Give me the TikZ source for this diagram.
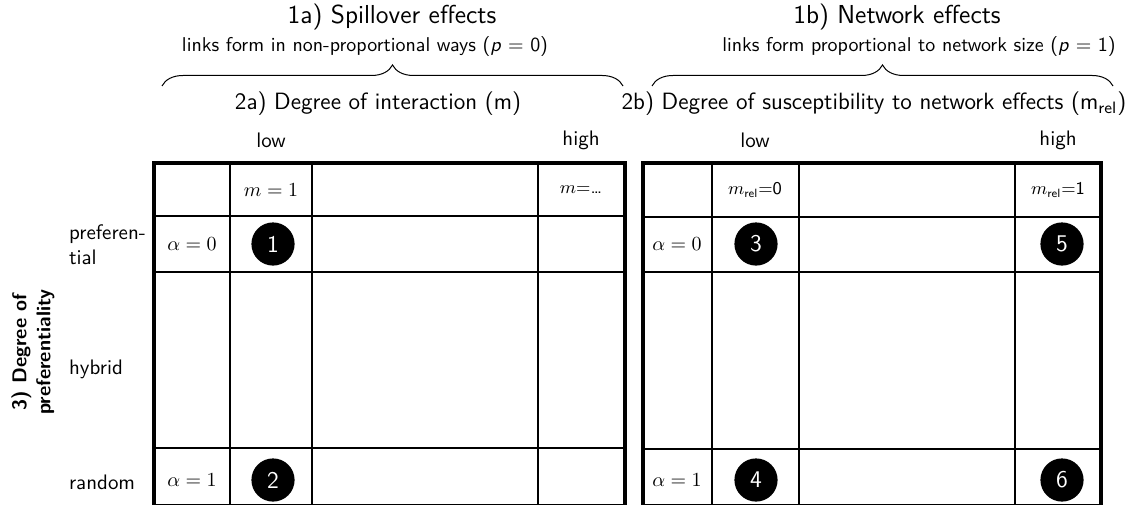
\documentclass[tikz,border=0pt]{standalone}
\usepackage{amsmath, amssymb}
\usetikzlibrary{decorations.pathreplacing}
\renewcommand{\familydefault}{\sfdefault}

\begin{document}
\begin{tikzpicture}[x=0.0176cm, y=-0.0176cm,
    grid/.style={line width=0.75pt},
    frame/.style={line width=2pt},
    num/.style={circle, fill=black, text=white, inner sep=0pt, minimum size=0.76cm, font=\large},
    lbl/.style={font=\fontsize{10.5}{12.5}\selectfont},
    bracket/.style={decorate, decoration={brace, amplitude=0.37cm}, line width=0.5pt}]
    \useasboundingbox (0,0) rectangle (1139,504);
    \clip (0,0) rectangle (1139,504);

    % Headings over the two tables
    \node[font=\fontsize{13}{15}\selectfont] (hdSpill) at (392,17) {1a) Spillover effects};
    \node (sbSpill) at (365,47) {links form in non-proportional ways (\textit{p} = 0)};
    \node[font=\fontsize{13}{15}\selectfont] (hdNet) at (897,17) {1b) Network effects};
    \node (sbNet) at (919,47) {links form proportional to network size (\textit{p} = 1)};

    % Braces
    \coordinate (bsA) at (162,86);
    \coordinate (beA) at (623,86);
    \coordinate (bsB) at (652,86);
    \coordinate (beB) at (1113,86);
    \draw[bracket] (bsA) -- (beA);
    \draw[bracket] (bsB) -- (beB);

    % Axis titles
    \node[font=\fontsize{11.8}{14}\selectfont] (axA) at (378,104) {2a) Degree of interaction (m)};
    \node[font=\fontsize{11.8}{14}\selectfont] (axB) at (874,104) {2b) Degree of susceptibility to network effects (m\textsubscript{rel})};
    \node[lbl] (loA) at (271,140) {low};
    \node[lbl] (hiA) at (581,140) {high};
    \node[lbl] (loB) at (755,140) {low};
    \node[lbl] (hiB) at (1058,140) {high};

    % Left table
    \foreach \x in {230,312,538} \draw[grid] (\x,163) -- (\x,520);
    \foreach \y in {216,272,448,505} \draw[grid] (154,\y) -- (625,\y);
    \draw[frame] (154,520) -- (154,163) -- (625,163) -- (625,520);

    % Right table
    \foreach \x in {712,799,1015} \draw[grid] (\x,163) -- (\x,520);
    \foreach \y in {217,272,449,505} \draw[grid] (643,\y) -- (1101,\y);
    \draw[frame] (643,520) -- (643,163) -- (1101,163) -- (1101,520);

    % Cell entries, left
    \node (mA1) at (271,190) {$m = 1$};
    \node[font=\small] (mAx) at (581,190) {$m$=\ldots};
    \node (aA0) at (192,244) {$\alpha = 0$};
    \node (aA1) at (192,480) {$\alpha = 1$};
    \node[num] (n1) at (273,244) {1};
    \node[num] (n2) at (273,480) {2};

    % Cell entries, right
    \node[font=\small] (mB0) at (755,190) {$m_{\textsf{rel}}$=0};
    \node[font=\small] (mB1) at (1058,190) {$m_{\textsf{rel}}$=1};
    \node (aB0) at (677,244) {$\alpha = 0$};
    \node (aB1) at (677,480) {$\alpha = 1$};
    \node[num] (n3) at (756,244) {3};
    \node[num] (n5) at (1062,244) {5};
    \node[num] (n4) at (756,480) {4};
    \node[num] (n6) at (1062,480) {6};

    % Row labels
    \node[lbl, anchor=west, align=left] (rPref) at (62,245) {preferen-\\tial};
    \node[lbl, anchor=west] (rHyb) at (62,369) {hybrid};
    \node[lbl, anchor=west] (rRand) at (62,482) {random};
    \node[lbl, rotate=90, align=center, font=\bfseries] (rAxis) at (33,352) {3) Degree of\\preferentiality};
\end{tikzpicture}
\end{document}
